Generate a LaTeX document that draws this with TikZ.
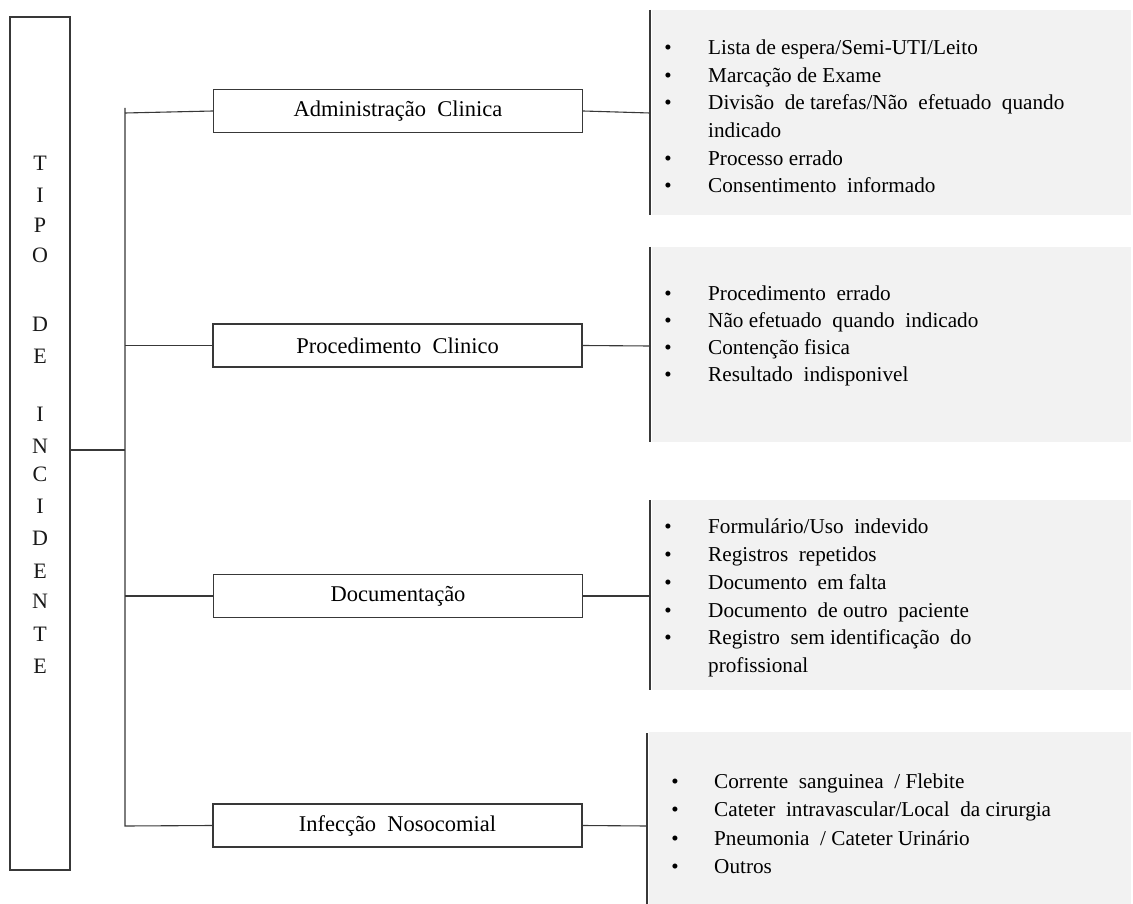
\documentclass[tikz,border=0pt]{standalone}
\usepackage{fontspec}
\setmainfont{Liberation Serif}
\definecolor{ln}{HTML}{383838}
\definecolor{gr}{HTML}{F2F2F2}
\tikzset{
  ln/.style={draw=ln, line width=1.1pt},
  catbox/.style={draw=ln, line width=1.2pt, minimum width=369pt, minimum height=43pt, inner sep=0pt, font=\fontsize{22.5}{26}\selectfont, text=black},
  graybox/.style={fill=gr, draw=none, inner sep=0pt},
  item/.style={anchor=base west, inner sep=0pt, font=\fontsize{21.2}{25}\selectfont, text=black},
  bul/.style={anchor=base, inner sep=0pt, font=\fontsize{21}{25}\selectfont, text=black},
  letter/.style={anchor=base, inner sep=0pt, font=\fontsize{22}{26}\selectfont, text=black!90}
}
\begin{document}
\begin{tikzpicture}[x=1pt,y=-1pt]
\useasboundingbox (0,0) rectangle (1133,904);
% left box
\node[draw=ln, line width=1.2pt, minimum width=60pt, minimum height=853pt, inner sep=0pt] (tipo) at (40,443.5) {};
\foreach \l/\y [count=\i] in {T/171,I/203,P/233,O/263,D/331,E/363,I/421,N/453,C/481,I/513,D/545,E/578,N/608,T/641,E/673}
  \node[letter] (t\i) at (40,\y) {\l};
% category boxes
\node[catbox] (adm) at (398,111) {Administração\ \ Clinica};
\node[catbox] (proc) at (397.5,345.5) {Procedimento\ \ Clinico};
\node[catbox] (doc) at (398,596) {Documentação};
\node[catbox] (inf) at (397.5,825.5) {Infecção\ \ Nosocomial};
% trunk
\coordinate (jt) at (125,108);
\coordinate (jm) at (125,450);
\coordinate (jb) at (125,826);
\coordinate (ja) at (125,113);
\draw[ln] (jt) -- (jb) -- (inf.west);
\draw[ln] (tipo.east |- jm) -- (jm);
\draw[ln] (ja) -- (adm.west);
\draw[ln] (proc.west -| jt) -- (proc.west);
\draw[ln] (doc.west -| jt) -- (doc.west);
% gray boxes
\node[graybox, minimum width=479pt, minimum height=205pt] (g1) at (891.5,112.5) {};
\node[graybox, minimum width=479pt, minimum height=195pt] (g2) at (891.5,344.5) {};
\node[graybox, minimum width=479pt, minimum height=190pt] (g3) at (891.5,595) {};
\node[graybox, minimum width=482pt, minimum height=172pt] (g4) at (890,818) {};
\draw[ln] (650,10) -- (650,215);
\draw[ln] (650,247) -- (650,442);
\draw[ln] (650,500) -- (650,690);
\draw[ln] (647,733) -- (647,904);
\coordinate (c1) at (650,113);
\coordinate (c2) at (650,346);
\coordinate (c3) at (650,596);
\coordinate (c4) at (647,826);
\draw[ln] (adm.east) -- (c1);
\draw[ln] (proc.east) -- (c2);
\draw[ln] (doc.east) -- (c3);
\draw[ln] (inf.east) -- (c4);
% bullets
\foreach \y [count=\i] in {55,82.5,110,165.5,193} \node[bul] (ab\i) at (668,\y) {•};
\foreach \y [count=\i] in {300,327,354,381} \node[bul] (bb\i) at (668,\y) {•};
\foreach \y [count=\i] in {533,561,589,617,644} \node[bul] (db\i) at (668,\y) {•};
\foreach \y [count=\i] in {788,816,845,873} \node[bul] (eb\i) at (675,\y) {•};
% list 1
\node[item] (a1) at (708,55) {Lista\ de espera/Semi-UTI/Leito};
\node[item] (a2) at (708,82.5) {Marcação de Exame};
\node[item] (a3) at (708,110) {Divisão\ \ de tarefas/Não\ \ efetuado\ \ quando};
\node[item] (a4) at (708,138) {indicado};
\node[item] (a5) at (708,165.5) {Processo errado};
\node[item] (a6) at (708,193) {Consentimento\ \ informado};
% list 2
\node[item] (b1) at (708,300) {Procedimento\ \ errado};
\node[item] (b2) at (708,327) {Não efetuado\ \ quando\ \ indicado};
\node[item] (b3) at (708,354) {Contenção fisica};
\node[item] (b4) at (708,381) {Resultado\ \ indisponivel};
% list 3
\node[item] (d1) at (708,533) {Formulário/Uso\ \ indevido};
\node[item] (d2) at (708,561) {Registros\ \ repetidos};
\node[item] (d3) at (708,589) {Documento\ \ em falta};
\node[item] (d4) at (708,617) {Documento\ \ de outro\ \ paciente};
\node[item] (d5) at (708,644) {Registro\ \ sem identificação\ \ do};
\node[item] (d6) at (708,672) {profissional};
% list 4
\node[item] (e1) at (714,788) {Corrente\ \ sanguinea\ \ / Flebite};
\node[item] (e2) at (714,816) {Cateter\ \ intravascular/Local\ \ da cirurgia};
\node[item] (e3) at (714,845) {Pneumonia\ \ / Cateter Urinário};
\node[item] (e4) at (714,873) {Outros};
\end{tikzpicture}
\end{document}
